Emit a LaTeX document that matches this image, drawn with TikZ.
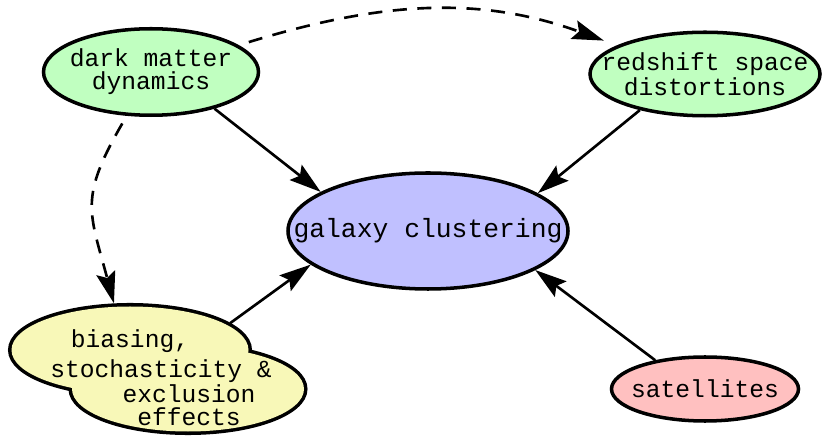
\documentclass[tikz,border=0pt]{standalone}
\usepackage{fontspec}
\setmonofont{Liberation Mono}
\usetikzlibrary{shapes.geometric,arrows.meta}
\definecolor{dmgreen}{RGB}{192,255,192}
\definecolor{clublue}{RGB}{192,192,255}
\definecolor{satred}{RGB}{255,192,192}
\definecolor{biasyellow}{RGB}{248,248,184}
\begin{document}
\begin{tikzpicture}[
  blob/.style={ellipse,draw,line width=2pt,inner xsep=-1.2cm,inner ysep=-0.3cm,align=center,
    font=\ttfamily\fontsize{14}{13}\selectfont},
  cloudpart/.style={ellipse,draw,line width=4pt,inner sep=0pt,fill=biasyellow},
  label/.style={font=\ttfamily\fontsize{14}{12}\selectfont,inner sep=0pt},
  link/.style={-{Stealth[length=18pt,width=11pt,inset=3pt]},line width=1.5pt},
  hint/.style={link,dash pattern=on 8pt off 6pt}]
\useasboundingbox (0,0) rectangle (16.46,8.72);
\node[blob,fill=dmgreen,minimum width=4.3cm,minimum height=1.73cm] (dm) at (3.02,7.28) {dark matter\\dynamics};
\node[blob,fill=dmgreen,minimum width=4.6cm,minimum height=1.67cm] (rsd) at (14.1,7.24) {redshift space\\distortions};
\node[blob,fill=clublue,minimum width=5.6cm,minimum height=2.32cm,font=\ttfamily\fontsize{15}{13}\selectfont] (clust) at (8.56,4.1) {galaxy clustering};
\node[blob,fill=satred,minimum width=3.74cm,minimum height=1.28cm] (sat) at (14.1,0.94) {satellites};
\node[cloudpart,minimum width=4.74cm,minimum height=1.74cm] (bias1) at (2.6,1.72) {};
\node[cloudpart,minimum width=4.64cm,minimum height=1.7cm] (bias2) at (3.76,0.94) {};
\fill[biasyellow] (bias1.center) ellipse (2.37 and 0.87);
\fill[biasyellow] (bias2.center) ellipse (2.32 and 0.85);
\node[label] (b1) at (2.6,1.9) {biasing,};
\node[label] (b2) at (3.22,1.3) {stochasticity \&};
\node[label] (b3) at (3.78,0.85) {exclusion};
\node[label] (b4) at (3.78,0.38) {effects};
\draw[link] (dm.330) -- (clust.160);
\draw[link] (rsd.209) -- (clust.19);
\draw[link] (sat.150) -- (clust.340);
\draw[link] (bias1.15) -- (clust.196);
\draw[hint,shorten <=6pt,shorten >=8pt] (dm.17) to[out=17,in=160] (rsd.162);
\draw[hint,shorten <=5pt] (dm.241) to[out=240,in=105,looseness=1.3] (bias1.109);
\end{tikzpicture}
\end{document}
